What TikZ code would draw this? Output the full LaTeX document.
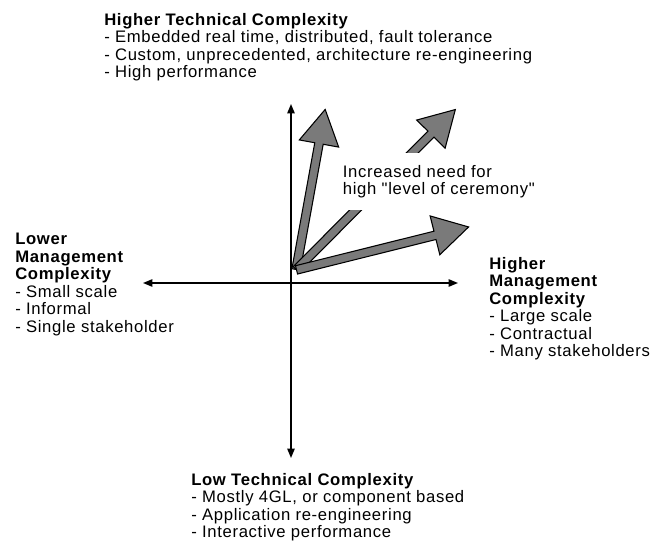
\documentclass[tikz,border=0pt]{standalone}
\usepackage{fontspec}
\setmainfont[LetterSpace=4]{Liberation Sans}
\newfontfamily\plainfont[LetterSpace=4]{Liberation Sans}
\usetikzlibrary{arrows.meta,shapes.arrows}
\tikzset{
  lbl/.style={anchor=north west, inner sep=0pt, align=left,
    font=\fontsize{12.5pt}{13.1pt}\selectfont},
  axis/.style={line width=1.1pt, {Triangle[length=7pt,width=5.5pt]}-{Triangle[length=7pt,width=5.5pt]}},
  fatarrow/.style={single arrow, draw=black, line width=0.8pt, fill=black!52,
    inner xsep=0pt, inner ysep=2.8pt, minimum width=0pt,
    single arrow head extend=11.8pt, single arrow tip angle=60, anchor=tail}
}
\begin{document}
\begin{tikzpicture}[x=0.75pt,y=-0.75pt]
\useasboundingbox (0,0) rectangle (654,549);
% axes
\coordinate (N) at (291,104);
\coordinate (S) at (291,458);
\coordinate (W) at (143,283);
\coordinate (E) at (458,283);
\draw[axis] (S) -- (N);
\draw[axis] (W) -- (E);
% thick arrows
\coordinate (O) at (296,270);
\node[fatarrow, rotate=79.7, minimum height=122pt] (tech) at (O) {};
\node[fatarrow, rotate=45.2, minimum height=169.2pt] (both) at (O) {};
\node[fatarrow, rotate=14.0, minimum height=133pt] (mgmt) at (O) {};
% labels
\node[lbl, fill=white, inner xsep=2pt, inner ysep=9pt, anchor=north west] (cer) at (340,153)
  {\plainfont Increased need for\\\plainfont high "level of ceremony"};
\node[lbl] (top) at (104,13) {\textbf{Higher Technical Complexity}\\
  - Embedded real time, distributed, fault tolerance\\
  - Custom, unprecedented, architecture re-engineering\\
  - High performance};
\node[lbl] (left) at (15,233) {\textbf{Lower}\\\textbf{Management}\\\textbf{Complexity}\\
  - Small scale\\- Informal\\- Single stakeholder};
\node[lbl] (right) at (489,257) {\textbf{Higher}\\\textbf{Management}\\\textbf{Complexity}\\
  - Large scale\\- Contractual\\- Many stakeholders};
\node[lbl] (bottom) at (191,473) {\textbf{Low Technical Complexity}\\
  - Mostly 4GL, or component based\\
  - Application re-engineering\\
  - Interactive performance};
\end{tikzpicture}
\end{document}
